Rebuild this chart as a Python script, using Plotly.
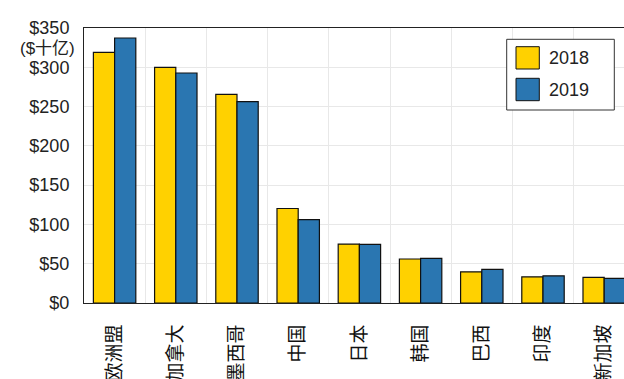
import plotly.graph_objects as go

categories = ["欧洲盟", "加拿大", "墨西哥", "中国", "日本", "韩国", "巴西", "印度", "新加坡"]
values_2018 = [319.0, 300.0, 265.5, 120.3, 75.0, 56.0, 39.7, 33.3, 32.6]
values_2019 = [337.3, 292.7, 256.2, 106.2, 74.6, 56.8, 42.8, 34.6, 31.3]
series_names = ["2018", "2019"]
y_ticks = [0, 50, 100, 150, 200, 250, 300, 350]
y_ticktext = ["$0", "$50", "$100", "$150", "$200", "$250", "$300", "$350"]
unit_label = "($十亿)"

colors = ["#FFD100", "#2A76B1"]
W, H = 624, 379
ML, MT, MB, MR = 84, 28, 76, 0
PW, PH = W - ML - MR, H - MT - MB

def px_x(x):
    return (x - ML) / PW

def px_y(y):
    return (H - MB - y) / PH

fig = go.Figure()
for name, vals, c in zip(series_names, [values_2018, values_2019], colors):
    fig.add_trace(go.Bar(
        x=categories, y=vals, name=name,
        marker=dict(color=c, line=dict(color="#111111", width=1.2)),
        showlegend=False,
    ))

group_px = 61.2
x_max = (W - ML) / group_px - 0.5

fig.update_layout(
    width=W, height=H,
    margin=dict(l=ML, r=MR, t=MT, b=MB, pad=0, autoexpand=False),
    paper_bgcolor="white", plot_bgcolor="white",
    barmode="group", bargap=0.307, bargroupgap=0,
    font=dict(family="Liberation Sans, Noto Sans CJK SC, sans-serif", size=18, color="#222222"),
    xaxis=dict(
        type="category", range=[-0.5, x_max], tickson="boundaries",
        showgrid=True, gridcolor="#e8e8e8", gridwidth=1,
        showline=True, linecolor="#222222", linewidth=1, mirror=True,
        ticks="", tickangle=-90, ticklabelstandoff=13, automargin=False,
        tickfont=dict(size=19, color="#111111", family="Noto Sans CJK SC, sans-serif"),
        zeroline=False,
    ),
    yaxis=dict(
        range=[0, 350], tickvals=y_ticks, ticktext=y_ticktext,
        showgrid=True, gridcolor="#e8e8e8", gridwidth=1,
        showline=True, linecolor="#222222", linewidth=1, mirror=False,
        ticks="", ticklabelstandoff=10, zeroline=False, automargin=False,
        tickfont=dict(size=18, color="#222222"),
    ),
)

fig.add_annotation(
    text=unit_label, xref="paper", yref="y", x=px_x(77), y=324,
    xanchor="right", yanchor="middle", showarrow=False,
    font=dict(size=17, color="#222222", family="Liberation Sans, Noto Sans CJK SC, sans-serif"),
)

# legend box
fig.add_shape(type="rect", xref="paper", yref="paper",
              x0=px_x(506.7), x1=px_x(614.3), y0=px_y(110), y1=px_y(39.3),
              line=dict(color="#333333", width=1), fillcolor="white", layer="above")
legend_rows = [(46.7, 69.0), (78.3, 100.7)]
for (y0, y1), name, c in zip(legend_rows, series_names, colors):
    fig.add_shape(type="rect", xref="paper", yref="paper",
                  x0=px_x(516), x1=px_x(539.3), y0=px_y(y1), y1=px_y(y0),
                  line=dict(color="#111111", width=1), fillcolor=c, layer="above")
    fig.add_annotation(text=name, xref="paper", yref="paper",
                       x=px_x(547), y=px_y((y0 + y1) / 2),
                       xanchor="left", yanchor="middle", showarrow=False,
                       font=dict(size=18, color="#222222"))

fig.write_html("out.html")
